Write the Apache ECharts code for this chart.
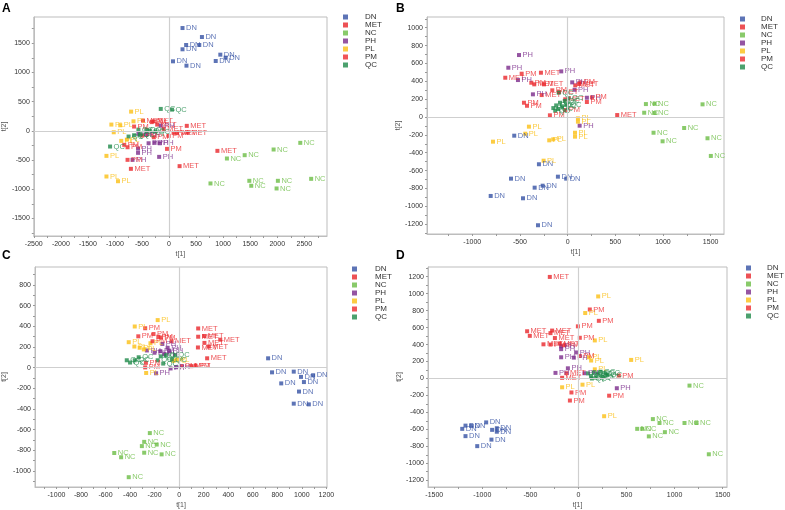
<!DOCTYPE html>
<html>
<head>
<meta charset="utf-8">
<script src="https://cdn.jsdelivr.net/npm/echarts@6.0.0/dist/echarts.min.js"></script>
<style>
  html, body { margin: 0; padding: 0; background: #fff; }
  #chart { width: 785px; height: 510px; }
</style>
</head>
<body>
<div id="chart"></div>
<script>
// groups and colours
const groups = ['DN', 'MET', 'NC', 'PH', 'PL', 'PM', 'QC'];
const groupColors = ['#3451a4', '#e8262a', '#6cbd45', '#7a2b8b', '#fbbf14', '#ee2a2e', '#1f8a4a'];

// panel A scores (t[1], t[2])
const A_DN = [[249,1761],[608,1607],[316,1471],[559,1471],[249,1397],[948,1305],[1046,1254],[73,1191],[322,1117],[863,1197]];
const A_MET = [[328,86],[347,-28],[894,-342],[195,-604],[-705,-650],[-481,176],[-286,164],[-99,34],[-219,108],[146,-34]];
const A_NC = [[2426,-205],[1933,-319],[1398,-416],[1070,-473],[2627,-821],[1484,-855],[2012,-855],[1520,-940],[1988,-986],[766,-900]];
const A_PH = [[-153,91],[-573,-303],[-378,-212],[-268,-205],[-171,-212],[-183,-445],[-675,-496],[-573,-376],[-566,-51],[-420,-63]];
const A_PL = [[-701,330],[-657,164],[-1066,108],[-902,96],[-1022,-24],[-883,-171],[-780,-150],[-1157,-428],[-1157,-781],[-944,-862]];
const A_PM = [[-646,74],[-767,-280],[-828,-239],[-767,-496],[-37,-308],[-7,-86],[-281,-109],[84,-34],[-493,-80],[-320,150]];
const A_QC = [[-153,376],[55,364],[-1090,-268],[-748,-97],[-566,22],[-420,17],[-537,-63],[-646,-75],[-354,5],[-250,-10]];

// panel B
const B_DN = [[-560,-209],[-301,-529],[-594,-690],[-346,-791],[-262,-769],[-102,-668],[-15,-690],[-807,-884],[-468,-910],[-311,-1212]];
const B_MET = [[-654,440],[-280,496],[-350,366],[-248,366],[-272,246],[80,355],[-25,198],[520,22],[-90,280],[120,370]];
const B_NC = [[821,145],[912,149],[803,48],[912,45],[1415,142],[1222,-123],[901,-176],[996,-272],[1467,-238],[1502,-436]];
const B_PH = [[-510,694],[-622,552],[-67,511],[-521,414],[48,388],[73,305],[-364,254],[202,216],[126,-97]];
const B_PL = [[-406,-108],[-444,-187],[-783,-276],[-193,-261],[-151,-250],[-252,-489],[108,-15],[108,-52],[77,-176],[77,-220]];
const B_PM = [[-482,485],[-381,384],[-458,160],[-426,126],[-161,299],[132,388],[255,220],[202,168],[-186,19],[-25,78]];
const B_QC = [[-150,100],[-120,130],[-100,90],[-80,160],[-60,120],[-30,180],[-10,140],[10,210],[-130,70],[-94,272]];

// panel C
const C_DN = [[725,91],[757,-45],[832,-152],[934,-38],[993,-89],[1092,-73],[1017,-139],[977,-231],[934,-348],[1057,-355]];
const C_MET = [[155,380],[155,300],[204,307],[335,271],[206,240],[242,205],[153,196],[228,91],[-62,256],[99,15]];
const C_NC = [[-239,-633],[-285,-718],[-304,-759],[-183,-744],[-285,-823],[-143,-839],[-529,-826],[-473,-867],[-411,-1060]];
const C_PH = [[-137,230],[-263,167],[-201,145],[-153,160],[-94,193],[-81,161],[-188,-54],[-70,-7],[-25,4],[-123,130]];
const C_PL = [[-175,461],[-362,399],[-411,247],[-365,205],[-322,193],[-288,177],[-234,237],[-269,-51],[-46,66],[-20,80]];
const C_PM = [[-277,382],[-333,304],[-209,326],[-170,300],[-150,292],[-217,256],[-271,47],[-277,3],[19,15],[134,19]];
const C_QC = [[-427,72],[-400,50],[-362,72],[-330,101],[-175,72],[-150,110],[-108,120],[-35,120],[-130,40],[-60,80]];

// panel D
const D_DN = [[-960,-518],[-1175,-556],[-1116,-556],[-1209,-594],[-849,-587],[-849,-628],[-898,-606],[-1175,-680],[-905,-721],[-1053,-798]];
const D_MET = [[-298,1198],[-534,557],[-506,503],[-274,565],[-291,535],[-245,477],[-364,403],[-193,411],[-125,62],[-170,8]];
const D_NC = [[1155,-84],[774,-479],[843,-525],[1103,-525],[1228,-525],[611,-594],[663,-594],[899,-633],[732,-683],[1356,-894]];
const D_PH = [[-180,380],[-180,346],[-24,307],[-180,250],[-48,246],[-110,120],[-239,66],[62,62],[399,-115]];
const D_PL = [[205,968],[70,772],[170,449],[548,219],[108,250],[132,212],[170,108],[-170,-104],[42,-73],[267,-445]];
const D_PM = [[118,814],[212,680],[-6,615],[14,480],[-291,400],[-146,392],[14,265],[420,35],[-73,-165],[-89,-260],[319,-203]];
const D_QC = [[100,60],[130,30],[160,70],[180,10],[200,50],[230,80],[250,20],[280,60],[300,40],[140,0]];

// tick labels
const A_xTicks = [-2500,-2000,-1500,-1000,-500,0,500,1000,1500,2000,2500];
const A_yTicks = [-1500,-1000,-500,0,500,1000,1500];
const B_xTicks = [-1000,-500,0,500,1000,1500];
const B_yTicks = [-1200,-1000,-800,-600,-400,-200,0,200,400,600,800,1000];
const C_xTicks = [-1000,-800,-600,-400,-200,0,200,400,600,800,1000,1200];
const C_yTicks = [-1000,-800,-600,-400,-200,0,200,400,600,800];
const D_xTicks = [-1500,-1000,-500,0,500,1000,1500];
const D_yTicks = [-1200,-1000,-800,-600,-400,-200,0,200,400,600,800,1000,1200];

const panels = [
  { letter: 'A', sets: [A_DN, A_MET, A_NC, A_PH, A_PL, A_PM, A_QC],
    grid: { left: 31, top: 17, width: 296, height: 219 },
    x: [-2500, 2920], y: [-1800, 1950], xt: A_xTicks, yt: A_yTicks,
    title: [0, 1], legend: [343, 13, 12], yGap: 25 },
  { letter: 'B', sets: [B_DN, B_MET, B_NC, B_PH, B_PL, B_PM, B_QC],
    grid: { left: 427, top: 17, width: 297, height: 217 },
    x: [-1475, 1640], y: [-1310, 1120], xt: B_xTicks, yt: B_yTicks,
    title: [394, 1], legend: [740, 15, 11], yGap: 21 },
  { letter: 'C', sets: [C_DN, C_MET, C_NC, C_PH, C_PL, C_PM, C_QC],
    grid: { left: 32, top: 267, width: 295, height: 224 },
    x: [-1175, 1205], y: [-1155, 975], xt: C_xTicks, yt: C_yTicks,
    title: [0, 248], legend: [352, 265, 13], yGap: 27 },
  { letter: 'D', sets: [D_DN, D_MET, D_NC, D_PH, D_PL, D_PM, D_QC],
    grid: { left: 428, top: 267, width: 299, height: 225 },
    x: [-1565, 1545], y: [-1280, 1315], xt: D_xTicks, yt: D_yTicks,
    title: [394, 248], legend: [746, 264, 11], yGap: 23 }
];

// minor ticks halfway between labels, kept inside the axis range
function withMinor(labels, range) {
  const step = labels[1] - labels[0];
  const out = [];
  for (let v = labels[0] - step; v <= labels[labels.length - 1] + step; v += step / 2) {
    if (v >= range[0] && v <= range[1]) out.push(v);
  }
  return out;
}

const font = 'Liberation Sans, Arial, sans-serif';
const axisColor = '#bdbdbd';

function makeAxis(p, isX) {
  const range = isX ? p.x : p.y;
  const labels = isX ? p.xt : p.yt;
  return {
    type: 'value',
    gridIndex: panels.indexOf(p),
    min: range[0], max: range[1],
    position: isX ? 'bottom' : 'left',
    name: isX ? 't[1]' : 't[2]',
    nameLocation: 'middle',
    nameGap: isX ? 15 : p.yGap,
    nameTextStyle: { fontSize: 7, color: '#555', fontFamily: font },
    axisLine: { show: true, onZero: false, lineStyle: { color: axisColor, width: 1 } },
    axisTick: { show: true, length: 2, customValues: withMinor(labels, range),
      lineStyle: { color: '#999' } },
    axisLabel: { customValues: labels, fontSize: 7, color: '#333', margin: isX ? 5 : 4,
      fontFamily: font, formatter: v => String(v) },
    splitLine: { show: false }
  };
}

const series = [];
panels.forEach((p, i) => {
  groups.forEach((g, k) => {
    const s = {
      type: 'scatter', name: g, xAxisIndex: i, yAxisIndex: i,
      data: p.sets[k],
      symbol: 'rect', symbolSize: 4,
      itemStyle: { color: groupColors[k] },
      label: { show: true, position: 'right', distance: 1.5, formatter: g,
        fontSize: 7.5, color: groupColors[k], fontFamily: font },
      emphasis: { disabled: true },
      z: 3
    };
    if (k === 0) {
      s.markLine = {
        silent: true, symbol: ['none', 'none'], animation: false,
        label: { show: false },
        lineStyle: { color: '#cfcfcf', width: 1.2, type: 'solid' },
        data: [{ xAxis: 0 }, { yAxis: 0 }]
      };
    }
    series.push(s);
  });
});

const chart = echarts.init(document.getElementById('chart'), null, { renderer: 'canvas' });
chart.setOption({
  animation: false,
  backgroundColor: '#fff',
  title: panels.map(p => ({
    text: p.letter, left: p.title[0], top: p.title[1], padding: 2,
    textStyle: { fontSize: 12, fontWeight: 'bold', color: '#000', fontFamily: font }
  })),
  legend: panels.map(p => ({
    data: groups, orient: 'vertical', left: p.legend[0], top: p.legend[1],
    padding: 0, icon: 'rect', itemWidth: 5, itemHeight: 5, itemGap: 0,
    selectedMode: false,
    textStyle: { fontSize: 8, color: '#333', fontFamily: font, lineHeight: 7.3,
      padding: [0, 0, 0, p.legend[2]] }
  })),
  grid: panels.map(p => Object.assign({ show: true, borderColor: axisColor, borderWidth: 1 }, p.grid)),
  xAxis: panels.map(p => makeAxis(p, true)),
  yAxis: panels.map(p => makeAxis(p, false)),
  series: series
});
</script>
</body>
</html>
